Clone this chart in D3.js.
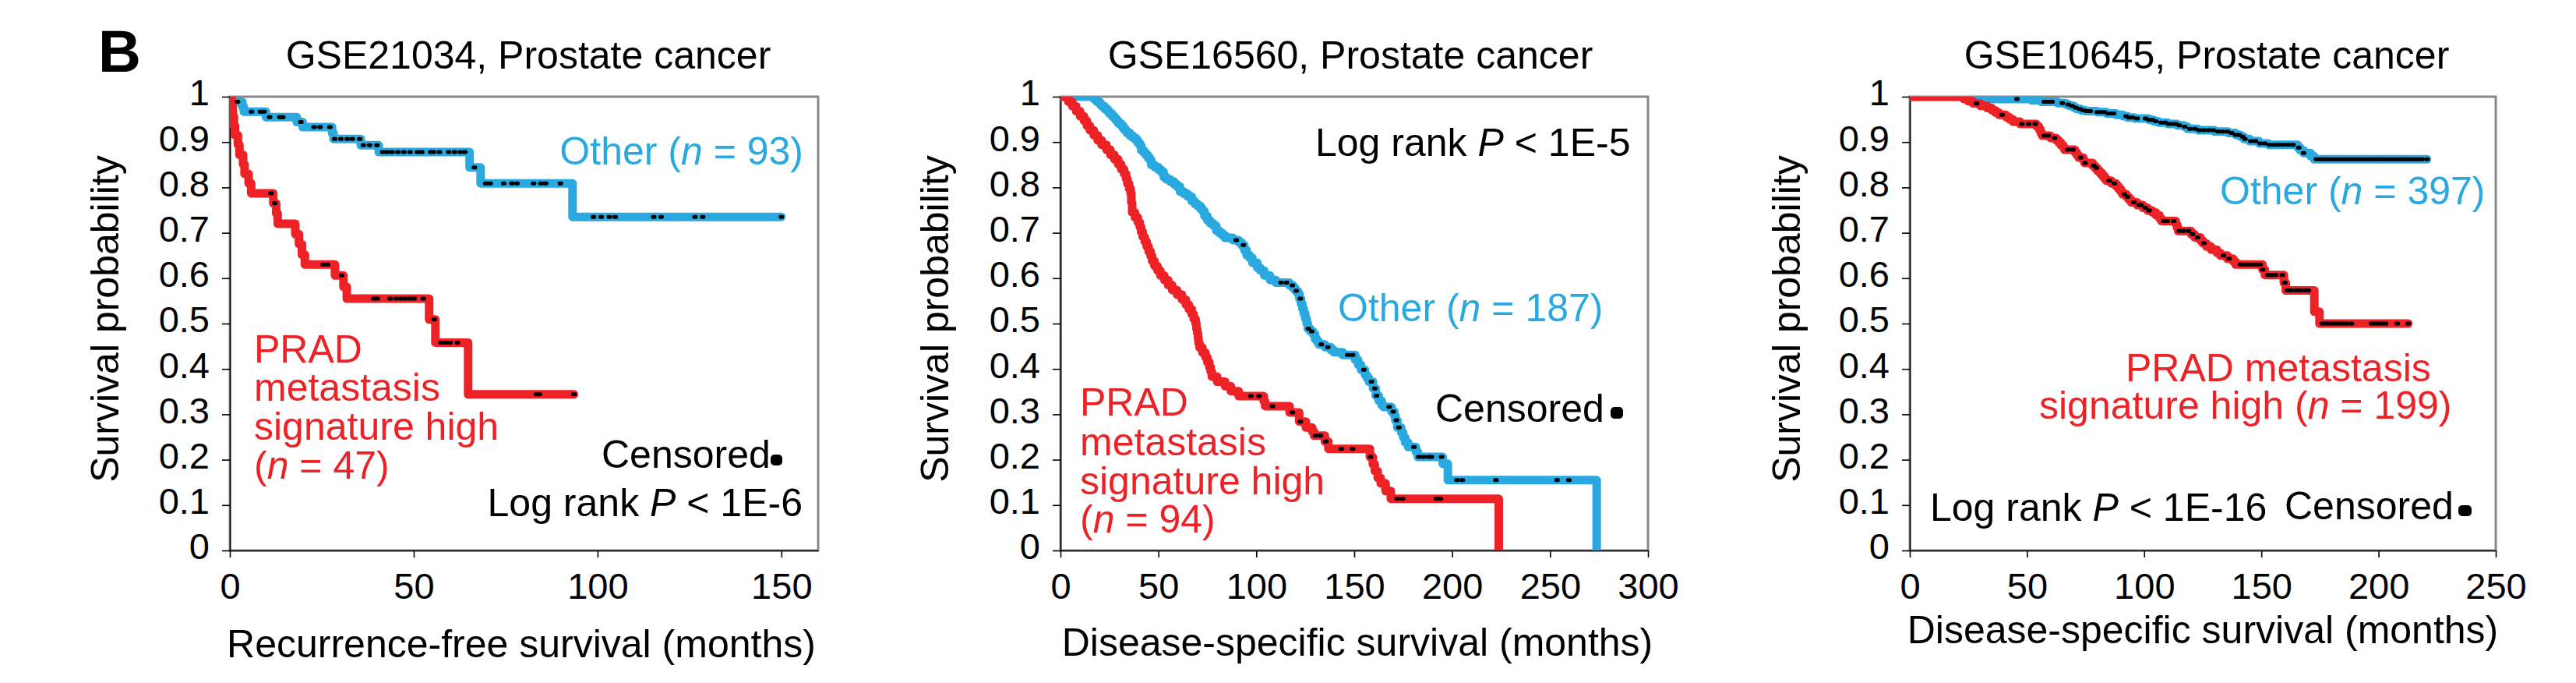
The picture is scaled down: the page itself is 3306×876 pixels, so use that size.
<!DOCTYPE html>
<html><head><meta charset="utf-8">
<script src="https://cdn.jsdelivr.net/npm/d3@7"></script>
<style>
body{margin:0;background:#fff}
svg{display:block;font-family:"Liberation Sans",Arial,sans-serif}
</style>
</head><body>
<svg id="chart" width="3306" height="876"></svg>
<script>
// ---------------- DATA ----------------
const panelLetter = "B";
const yTicks = [0, 0.1, 0.2, 0.3, 0.4, 0.5, 0.6, 0.7, 0.8, 0.9, 1];
const yTickLabels = ["0", "0.1", "0.2", "0.3", "0.4", "0.5", "0.6", "0.7", "0.8", "0.9", "1"];
const yAxisLabel = "Survival probability";

const titles = ["GSE21034, Prostate cancer", "GSE16560, Prostate cancer", "GSE10645, Prostate cancer"];
const xAxisLabels = ["Recurrence-free survival (months)", "Disease-specific survival (months)", "Disease-specific survival (months)"];
const xMax = [160, 300, 250];
const p1XTicks = [0, 50, 100, 150];
const p2XTicks = [0, 50, 100, 150, 200, 250, 300];
const p3XTicks = [0, 50, 100, 150, 200, 250];
const otherN = [93, 187, 397];
const highN = [47, 94, 199];
const logRankP = ["1E-6", "1E-5", "1E-16"];

// Panel 1 (GSE21034)
const p1OtherSteps = [[0,1],[1.0,0.989],[3.4,0.978],[3.8,0.967],[9.8,0.955],[18.2,0.944],[19.8,0.933],[27.8,0.920],[28.2,0.907],[35.6,0.893],[40.5,0.878],[65.2,0.844],[68.2,0.809],[93.2,0.735]];
const p1OtherCensored = [2.1,5.9,8.3,9.3,10.8,13.6,14.4,19.3,22.9,24.5,27.2,28.5,30.2,31.9,33.3,35.3,36.3,38.0,40.0,41.6,42.8,44.1,45.7,47.3,49.0,51.0,52.2,54.6,55.4,57.0,59.5,61.1,62.7,63.9,66.5,69.6,70.8,74.5,76.7,78.1,82.6,84.6,85.9,89.9,98.9,101.0,103.2,104.8,115.3,117.3,126.5,128.6,150];
const p1OtherEnd = 150;
const p1HighSteps = [[0,1],[0.5,0.979],[0.8,0.957],[1.1,0.936],[1.4,0.915],[2.2,0.894],[2.6,0.872],[3.6,0.851],[4.0,0.830],[5.1,0.809],[5.8,0.787],[11.8,0.765],[12.6,0.743],[13.0,0.720],[17.8,0.697],[18.8,0.675],[19.6,0.652],[20.4,0.630],[28.6,0.606],[30.9,0.581],[31.8,0.555],[54.2,0.509],[55.9,0.458],[64.8,0.344]];
const p1HighCensored = [11.2,12.2,25.4,26.6,30.4,39.2,40.1,43.6,45.2,46.5,47.7,49.0,50.1,52.6,55.6,57.4,58.7,59.9,61.9,83.4,84.2,93.6];
const p1HighEnd = 93.6;

// Panel 2 (GSE16560)
const p2OtherSteps = [[0,1],[17,0.995],[18.5,0.989],[20,0.984],[21,0.979],[22.5,0.973],[24,0.968],[25,0.963],[26.3,0.957],[27.5,0.952],[28.5,0.947],[29.5,0.941],[31,0.936],[32,0.930],[33,0.925],[34,0.920],[35.5,0.914],[37,0.909],[38.5,0.904],[39.5,0.898],[40.5,0.893],[41.2,0.882],[42.5,0.877],[43.5,0.872],[44.5,0.866],[45.5,0.861],[46.3,0.850],[48,0.845],[50,0.839],[51.5,0.834],[52.7,0.823],[54,0.818],[56,0.813],[58,0.807],[59.5,0.802],[61,0.791],[63,0.786],[65,0.780],[67,0.770],[68.5,0.764],[70,0.759],[71.5,0.753],[72.5,0.748],[73.5,0.737],[75,0.727],[76.5,0.721],[78,0.716],[79.5,0.705],[81,0.700],[82.5,0.695],[84,0.689],[88,0.684],[91,0.679],[92.5,0.673],[93.9,0.662],[95,0.651],[96.5,0.645],[98,0.634],[100.5,0.623],[102,0.617],[104,0.606],[107,0.596],[110,0.590],[117,0.584],[118.8,0.578],[120,0.572],[121.2,0.566],[122,0.555],[122.8,0.544],[123.5,0.533],[124.2,0.522],[125,0.511],[125.7,0.500],[126.3,0.489],[127.5,0.483],[129,0.477],[130,0.466],[131,0.460],[132,0.454],[135,0.448],[138,0.442],[139.5,0.437],[144,0.431],[150.5,0.420],[152,0.409],[153.5,0.398],[155.5,0.387],[156.5,0.380],[157.5,0.372],[159.6,0.357],[161,0.341],[162.5,0.330],[164,0.320],[165,0.316],[169,0.306],[170.5,0.297],[171,0.287],[172,0.271],[174,0.260],[175,0.249],[176,0.238],[177.5,0.228],[181.5,0.217],[182.5,0.206],[195.2,0.191],[197.8,0.155],[273.8,0]];
const p2OtherCensored = [89.8,93.4,112.6,115.4,118.4,120.4,122.5,126.6,128.3,133.2,136.5,146.7,149.2,154.9,158.8,160.5,161.4,167.9,169.9,171.5,172.8,180.5,183,185.5,188,189.4,194.6,202.5,205.2,222.4,253.6,259.6];
const p2OtherEnd = null;
const p2HighSteps = [[0,1],[4,0.989],[6,0.979],[8,0.968],[10,0.957],[12,0.947],[13.5,0.936],[15,0.926],[17,0.915],[19,0.904],[21,0.894],[23.5,0.883],[25.5,0.872],[27.5,0.862],[29.5,0.851],[31,0.840],[32.5,0.830],[33.5,0.819],[34.2,0.808],[35,0.798],[35.8,0.787],[36.2,0.766],[36.6,0.745],[38,0.734],[39.5,0.723],[40.5,0.713],[41.2,0.702],[42,0.691],[43,0.681],[44,0.670],[45,0.659],[46,0.649],[46.8,0.638],[48,0.627],[49.5,0.617],[51,0.606],[53,0.596],[55,0.585],[57,0.574],[59.5,0.564],[62,0.553],[64,0.542],[65.5,0.532],[67,0.521],[68,0.510],[69,0.500],[69.4,0.489],[69.8,0.479],[70.2,0.468],[70.5,0.457],[71,0.447],[72.5,0.436],[74,0.426],[75,0.415],[76,0.404],[76.7,0.394],[77.3,0.383],[80,0.372],[84,0.362],[87,0.351],[91,0.340],[103.8,0.329],[104.5,0.318],[117,0.304],[121.9,0.284],[125.3,0.271],[128.5,0.262],[129.5,0.253],[135,0.240],[136.8,0.224],[158,0.206],[159.5,0.190],[160.5,0.175],[162,0.160],[163.5,0.148],[166,0.131],[168.7,0.114],[223.8,0]];
const p2HighCensored = [97.2,101.4,108.3,118.5,122.5,130.2,132.7,135.5,143.4,149.2,158.3,172,174.7,192,194];
const p2HighEnd = null;

// Panel 3 (GSE10645)
const p3OtherSteps = [[0,1],[25,0.997],[32,0.995],[52,0.992],[56,0.989],[63,0.986],[66.5,0.983],[68,0.980],[70,0.976],[71,0.973],[73,0.970],[75,0.968],[80,0.966],[84,0.963],[88,0.960],[91,0.957],[93,0.954],[96,0.952],[102,0.949],[104,0.946],[106,0.943],[110,0.940],[114,0.937],[117,0.934],[118.5,0.929],[123,0.926],[130,0.923],[136,0.920],[139,0.916],[141,0.912],[142.5,0.907],[145,0.902],[149,0.897],[153,0.894],[165.5,0.888],[166.5,0.882],[168,0.876],[171,0.869],[172.5,0.862]];
const p3OtherCensored = [45.7,57.4,58.5,59.6,60.7,65.1,67.6,69.2,70.8,72.5,74,75.5,77,80,81.5,83,84.5,86,87,92.3,93.5,95,97,100.6,102,103.5,105,107.3,109,110.5,112,113.5,115,117.3,119.5,121.7,123.5,125.5,127.5,129.5,131.5,133.5,135.5,137.3,139,140.5,142,143,145.5,147.5,149.5,151.5,153.5,155.5,157.5,159.5,161.5,163.5,166,168,173.5,175,176.5,178,179.5,181,182.5,184,185.5,187,188.5,190,191.5,193,194.5,196,197.5,199,200.5,202,203.5,205,206.5,208,209.5,211,212.5,214,215.5,217,218.5,220.7];
const p3OtherEnd = 220.7;
const p3HighSteps = [[0,1],[23,0.995],[25,0.990],[27,0.985],[30,0.980],[33,0.975],[35,0.970],[36.5,0.965],[38,0.960],[41,0.955],[42.5,0.950],[44,0.945],[47,0.940],[54,0.935],[55,0.930],[55.5,0.925],[56,0.919],[56.5,0.914],[60,0.909],[62.5,0.904],[63.5,0.899],[64.5,0.893],[65.5,0.888],[66,0.883],[70.5,0.877],[71.3,0.871],[72,0.866],[74,0.860],[74.5,0.854],[78,0.848],[79,0.843],[80,0.837],[81,0.832],[82,0.826],[83,0.820],[83.8,0.815],[86,0.809],[88,0.803],[89,0.797],[90,0.791],[90.7,0.785],[92.5,0.779],[93.5,0.773],[94.5,0.767],[97,0.761],[99.5,0.755],[101.5,0.749],[103.5,0.745],[105,0.739],[106.5,0.732],[107.3,0.726],[113.5,0.719],[114,0.712],[114.5,0.704],[120,0.697],[121.5,0.690],[124,0.683],[125,0.677],[126.5,0.670],[128.5,0.663],[131,0.656],[132.5,0.650],[135.5,0.643],[138,0.637],[139,0.630],[150.5,0.619],[151.5,0.607],[159.6,0.590],[160.4,0.573],[172.6,0.526],[174.8,0.500]];
const p3HighCensored = [28.5,39.4,47.9,50.7,53.5,57.4,59,61.8,67.4,69.6,72.9,74.8,78.5,79.6,85.1,87.3,91.6,92.9,95.6,97.9,98.6,100.5,102.1,108.4,109.8,112.6,115,116.7,118.9,120.6,122.8,125.5,133.9,136.2,141.1,142.8,144.5,146.1,147.8,149.5,150.6,152.8,154.5,156.1,158.9,160,161.1,162.8,165,166.7,168.9,170,176,177.5,179,180.5,182,183.5,185,186.5,188.5,197,198.5,200,201.5,203,208,212.7];
const p3HighEnd = 212.7;

// ---------------- STYLE / LAYOUT ----------------
const BLUE = "#2aa9e0", RED = "#ec2227";
const FONT = 50, TICKFONT = 47;
const yTop = 124, yBot = 706;

const svg = d3.select("#chart");

svg.append("text").attr("x", 126).attr("y", 92)
  .attr("font-size", 76).attr("font-weight", "bold").text(panelLetter);

function survAt(steps, t) {
  let s = 1;
  for (const [tt, v] of steps) { if (tt <= t) s = v; else break; }
  return s;
}

const panels = [
  {x0: 295, x1: 1050, xTicks: p1XTicks, ylabX: 152, xlab: [669, 843], title: [678, 88],
   other: {steps: p1OtherSteps, cens: p1OtherCensored, end: p1OtherEnd},
   high: {steps: p1HighSteps, cens: p1HighCensored, end: p1HighEnd}},
  {x0: 1361, x1: 2115, xTicks: p2XTicks, ylabX: 1217, xlab: [1742, 841], title: [1733, 88],
   other: {steps: p2OtherSteps, cens: p2OtherCensored, end: p2OtherEnd},
   high: {steps: p2HighSteps, cens: p2HighCensored, end: p2HighEnd}},
  {x0: 2451, x1: 3203, xTicks: p3XTicks, ylabX: 2310, xlab: [2827, 825], title: [2832, 88],
   other: {steps: p3OtherSteps, cens: p3OtherCensored, end: p3OtherEnd},
   high: {steps: p3HighSteps, cens: p3HighCensored, end: p3HighEnd}}
];

panels.forEach((P, i) => {
  const x = d3.scaleLinear().domain([0, xMax[i]]).range([P.x0, P.x1]);
  const y = d3.scaleLinear().domain([0, 1]).range([yBot, yTop]);
  const g = svg.append("g");

  g.append("rect").attr("x", P.x0).attr("y", yTop).attr("width", P.x1 - P.x0).attr("height", yBot - yTop)
    .attr("fill", "none").attr("stroke", "#8a8a8a").attr("stroke-width", 3);

  const cid = "clip" + i;
  svg.append("defs").append("clipPath").attr("id", cid).append("rect")
    .attr("x", P.x0).attr("y", yTop).attr("width", P.x1 - P.x0).attr("height", yBot - yTop);

  const ya = g.append("g").attr("transform", `translate(${P.x0},0)`)
    .call(d3.axisLeft(y).tickValues(yTicks).tickFormat((d, k) => yTickLabels[k]).tickSize(10).tickPadding(16).tickSizeOuter(0));
  ya.selectAll("text").attr("font-size", TICKFONT).attr("font-family", "Liberation Sans, Arial, sans-serif").attr("fill", "#000").attr("dy", "0.23em");
  ya.selectAll("line,path").attr("stroke", "#000").attr("stroke-width", 1.6);

  const xa = g.append("g").attr("transform", `translate(0,${yBot})`)
    .call(d3.axisBottom(x).tickValues(P.xTicks).tickFormat(d3.format("d")).tickSize(9).tickSizeOuter(0));
  xa.selectAll("text").attr("font-size", TICKFONT).attr("font-family", "Liberation Sans, Arial, sans-serif").attr("fill", "#000").attr("y", 62).attr("dy", 0);
  xa.selectAll("line,path").attr("stroke", "#000").attr("stroke-width", 1.6);

  svg.append("text").attr("transform", `translate(${P.ylabX},409) rotate(-90)`)
    .attr("text-anchor", "middle").attr("font-size", FONT).text(yAxisLabel);
  svg.append("text").attr("x", P.xlab[0]).attr("y", P.xlab[1]).attr("text-anchor", "middle")
    .attr("font-size", FONT).text(xAxisLabels[i]);
  svg.append("text").attr("x", P.title[0]).attr("y", P.title[1]).attr("text-anchor", "middle")
    .attr("font-size", FONT).text(titles[i]);

  const line = d3.line().x(d => x(d[0])).y(d => y(d[1])).curve(d3.curveStepAfter);
  function drawSeries(S, color) {
    const pts = S.steps.slice();
    const last = pts[pts.length - 1];
    if (S.end != null && S.end > last[0]) pts.push([S.end, last[1]]);
    g.append("path").datum(pts).attr("d", line).attr("fill", "none")
      .attr("stroke", color).attr("stroke-width", 11)
      .attr("stroke-linejoin", "round").attr("stroke-linecap", "round")
      .attr("clip-path", `url(#${cid})`);
  }
  function drawCens(S) {
    g.append("g").selectAll("rect").data(S.cens).join("rect")
      .attr("x", d => x(d) - 3.5).attr("y", d => y(survAt(S.steps, d)) - 2.5)
      .attr("width", 7).attr("height", 5).attr("rx", 2).attr("fill", "#000");
  }
  drawSeries(P.other, BLUE);
  drawSeries(P.high, RED);
  drawCens(P.other);
  drawCens(P.high);
});

// ---------------- ANNOTATIONS ----------------
// lines: array of {y, parts:[[text, italic?]]}; all in one text element
function block(x, color, lines, anchor) {
  const t = svg.append("text").attr("x", x).attr("y", lines[0].y).attr("font-size", FONT)
    .attr("fill", color).attr("text-anchor", anchor || "start");
  lines.forEach((ln, k) => {
    ln.parts.forEach((p, j) => {
      const s = t.append("tspan").text(p[0]);
      if (j === 0 && k > 0) s.attr("x", ln.x != null ? ln.x : x).attr("y", ln.y);
      if (p[1]) s.attr("font-style", "italic");
    });
  });
  return t;
}
function censMarker(x, yv, w, h) {
  svg.append("rect").attr("x", x).attr("y", yv).attr("width", w).attr("height", h).attr("rx", 5).attr("fill", "#000");
}

// Panel 1
block(1031, BLUE, [{y: 211, parts: [["Other ("], ["n", 1], [` = ${otherN[0]})`]]}], "end");
block(326, RED, [
  {y: 465, parts: [["PRAD"]]},
  {y: 514, parts: [["metastasis"]]},
  {y: 564, parts: [["signature high"]]},
  {y: 614, parts: [["("], ["n", 1], [` = ${highN[0]})`]]}
]);
block(772, "#000", [{y: 600, parts: [["Censored"]]}]);
censMarker(989, 583, 15, 14);
block(1030, "#000", [{y: 662, parts: [["Log rank "], ["P", 1], [` < ${logRankP[0]}`]]}], "end");

// Panel 2
block(1688, "#000", [{y: 200, parts: [["Log rank "], ["P", 1], [` < ${logRankP[1]}`]]}]);
block(1717, BLUE, [{y: 412, parts: [["Other ("], ["n", 1], [` = ${otherN[1]})`]]}]);
block(1842, "#000", [{y: 541, parts: [["Censored"]]}]);
censMarker(2067, 522, 16, 15);
block(1386, RED, [
  {y: 533, parts: [["PRAD"]]},
  {y: 584, parts: [["metastasis"]]},
  {y: 634, parts: [["signature high"]]},
  {y: 683, parts: [["("], ["n", 1], [` = ${highN[1]})`]]}
]);

// Panel 3
block(2849, BLUE, [{y: 262, parts: [["Other ("], ["n", 1], [` = ${otherN[2]})`]]}]);
block(2728, RED, [
  {y: 489, parts: [["PRAD metastasis"]]},
  {y: 537, x: 2617, parts: [["signature high ("], ["n", 1], [` = ${highN[2]})`]]}
]);
block(2477, "#000", [{y: 668, parts: [["Log rank "], ["P", 1], [` < ${logRankP[2]}`]]}]);
block(2932, "#000", [{y: 666, parts: [["Censored"]]}]);
censMarker(3155, 648, 17, 14);
</script>
</body></html>
